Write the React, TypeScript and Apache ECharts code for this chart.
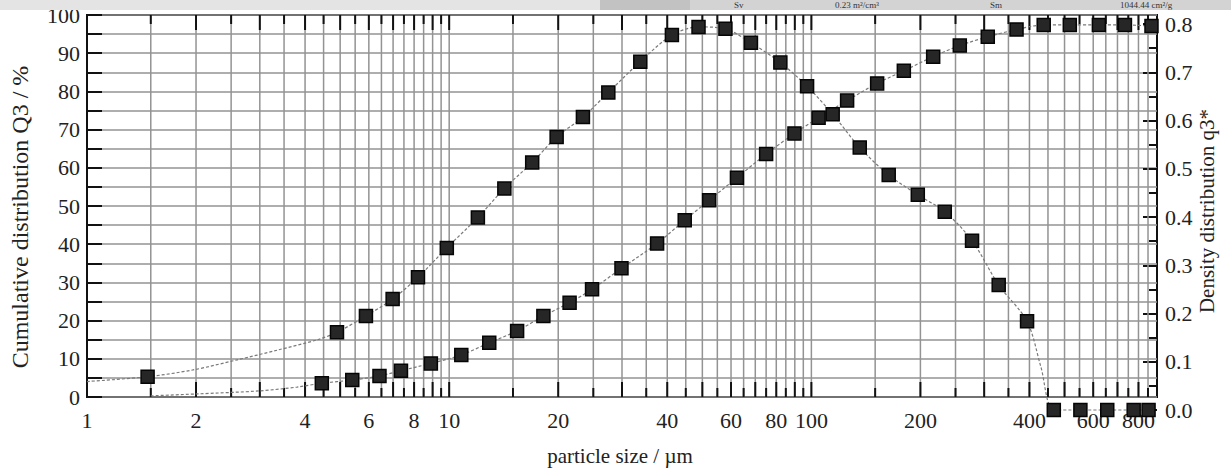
import React, { useEffect, useRef } from "react";
import * as echarts from "echarts";

// particle size (µm), density distribution q3* (right axis) — squares
const densitySize = [1.47, 4.9, 5.89, 6.98, 8.2, 9.85, 12.0, 14.2, 16.95, 19.8, 23.4, 27.5, 33.7, 41.2, 48.8, 57.9, 68.1, 82.1, 97.3, 114.5, 136, 163.5, 196.7, 233.5, 277.7, 329, 394, 467, 553, 656, 776, 853];
const densityValue = [0.069, 0.161, 0.195, 0.23, 0.275, 0.336, 0.399, 0.459, 0.513, 0.566, 0.607, 0.658, 0.722, 0.777, 0.794, 0.79, 0.761, 0.72, 0.671, 0.613, 0.544, 0.487, 0.446, 0.411, 0.351, 0.259, 0.184, 0, 0, 0, 0, 0];
// extra points of the fitted density trace (line only)
const densityTraceSize = [1, 1.96, 2.6, 3.35, 4.3, 430];
const densityTraceValue = [0.059, 0.083, 0.104, 0.124, 0.145, 0.09];

// particle size (µm), cumulative distribution Q3 (%) — squares
const cumulativeSize = [4.45, 5.4, 6.42, 7.36, 8.9, 10.8, 12.9, 15.4, 18.2, 21.5, 24.8, 29.9, 37.5, 44.7, 52.2, 62.3, 75, 89.8, 104.7, 125.5, 151.9, 180, 216.9, 256.9, 306.9, 368.5, 438, 517, 622, 734, 869];
const cumulativeValue = [3.6, 4.45, 5.5, 6.9, 8.8, 11, 14.2, 17.3, 21.2, 24.7, 28.2, 33.7, 40.2, 46.3, 51.5, 57.4, 63.6, 69.0, 73.1, 77.6, 82.1, 85.4, 89.1, 92.0, 94.3, 96.2, 97.4, 97.4, 97.4, 97.4, 97.1];
// extra points of the fitted cumulative trace (line only)
const cumulativeTraceSize = [1.5, 2, 3, 3.8];
const cumulativeTraceValue = [0.3, 0.8, 1.6, 2.6];

// vertical grid lines of the log paper
const gridLineValues = [
  1.5, 2, 2.5, 3, 3.5, 4, 4.5, 5, 5.5, 6, 6.5, 7, 7.5, 8, 8.5, 9, 9.5, 10,
  15, 20, 25, 30, 35, 40, 45, 50, 55, 60, 65, 70, 75, 80, 85, 90, 95, 100,
  150, 200, 250, 300, 350, 400, 450, 500, 550, 600, 650, 700, 750, 800, 850,
];
const xTickLabels = [1, 2, 4, 6, 8, 10, 20, 40, 60, 80, 100, 200, 400, 600, 800];

const X_MIN = 1;
const X_MAX = 900;
const SERIF = "'Liberation Serif', 'DejaVu Serif', serif";
const GRID_COLOR = "#939393";

function buildLine(mx: number[], my: number[], tx: number[], ty: number[]) {
  const pts: any[] = [];
  mx.forEach((x, i) => pts.push({ value: [x, my[i]] }));
  tx.forEach((x, i) => pts.push({ value: [x, ty[i]], symbol: "none" }));
  pts.sort((a, b) => a.value[0] - b.value[0]);
  return pts;
}

function isMajor(v: number) {
  const p = Math.pow(10, Math.floor(Math.log10(v) + 1e-9));
  const r = v / p;
  return Math.abs(r - Math.round(r)) < 1e-6;
}

export default function App() {
  const ref = useRef<HTMLDivElement>(null);
  useEffect(() => {
    if (!ref.current) return;
    const chart = echarts.init(ref.current, undefined, { renderer: "svg" });
    const lineStyle = { color: "#7a7a7a", width: 1.2, type: [3, 2] as any };
    const markerStyle = { color: "#262626", borderColor: "#050505", borderWidth: 1.5 };
    const headFont = `9px ${SERIF}`;

    chart.setOption({
      animation: false,
      backgroundColor: "#ffffff",
      grid: [
        { left: 87, right: 74, top: 15, bottom: 75, show: true, borderColor: "#111", borderWidth: 2, backgroundColor: "transparent" },
        { left: 87, right: 74, top: 24, bottom: 62, show: false },
      ],
      xAxis: [
        { type: "log", logBase: 10, min: X_MIN, max: X_MAX, gridIndex: 0, axisLine: { show: false }, axisTick: { show: false }, axisLabel: { show: false }, splitLine: { show: false } },
        { type: "log", logBase: 10, min: X_MIN, max: X_MAX, gridIndex: 1, show: false },
      ],
      yAxis: [
        {
          type: "value", gridIndex: 0, min: 0, max: 100, interval: 10, position: "left",
          axisLine: { show: false },
          axisTick: { show: true, inside: true, length: 15, lineStyle: { color: "#111", width: 2 } },
          minorTick: { show: true, splitNumber: 2, length: 15, lineStyle: { color: "#111", width: 2 } },
          splitLine: { show: true, lineStyle: { color: GRID_COLOR, width: 1.5 } },
          minorSplitLine: { show: true, lineStyle: { color: GRID_COLOR, width: 1.5 } },
          axisLabel: { color: "#222", fontSize: 22, fontFamily: SERIF, margin: 7 },
        },
        {
          type: "value", gridIndex: 1, min: 0, max: 0.8, interval: 0.1, position: "right",
          axisLine: { show: false },
          axisTick: { show: true, inside: true, length: 14, lineStyle: { color: "#111", width: 2 } },
          minorTick: { show: true, splitNumber: 2, length: 8, lineStyle: { color: "#111", width: 2 } },
          splitLine: { show: false },
          axisLabel: { color: "#222", fontSize: 22, fontFamily: SERIF, margin: 8, formatter: (v: number) => v.toFixed(1) },
        },
      ],
      graphic: [
        { type: "rect", shape: { x: 0, y: 0, width: 1231, height: 10 }, style: { fill: "#e4e4e4" }, z: 10 },
        { type: "rect", shape: { x: 600, y: 0, width: 90, height: 10 }, style: { fill: "#c2c2c2" }, z: 10 },
        { type: "rect", shape: { x: 690, y: 0, width: 541, height: 10 }, style: { fill: "#d3d3d3" }, z: 10 },
        { type: "text", x: 734, y: 5, z: 11, style: { text: "Sv", font: headFont, fill: "#333", verticalAlign: "middle" } },
        { type: "text", x: 835, y: 5, z: 11, style: { text: "0.23 m²/cm³", font: headFont, fill: "#333", verticalAlign: "middle" } },
        { type: "text", x: 990, y: 5, z: 11, style: { text: "Sm", font: headFont, fill: "#333", verticalAlign: "middle" } },
        { type: "text", x: 1120, y: 5, z: 11, style: { text: "1044.44 cm²/g", font: headFont, fill: "#333", verticalAlign: "middle" } },
        { type: "text", x: 20, y: 217, rotation: Math.PI / 2, style: { text: "Cumulative distribution Q3 / %", font: `24px ${SERIF}`, fill: "#222", align: "center", verticalAlign: "middle" } },
        { type: "text", x: 1207, y: 211, rotation: Math.PI / 2, style: { text: "Density distribution q3*", font: `21px ${SERIF}`, fill: "#222", align: "center", verticalAlign: "middle" } },
        { type: "text", x: 620, y: 456, style: { text: "particle size / µm", font: `21px ${SERIF}`, fill: "#222", align: "center", verticalAlign: "middle" } },
      ],
      series: [
        {
          type: "custom", xAxisIndex: 0, yAxisIndex: 0, z: 1, clip: false, silent: true,
          data: gridLineValues.map((v) => [v, 50]),
          renderItem: (params: any, api: any) => {
            const v = api.value(0);
            const top = api.coord([v, 100]);
            const bot = api.coord([v, 0]);
            const len = isMajor(v) ? 15 : 9;
            return {
              type: "group",
              children: [
                { type: "line", shape: { x1: top[0], y1: top[1], x2: bot[0], y2: bot[1] }, style: { stroke: GRID_COLOR, lineWidth: 1.5 } },
                { type: "line", shape: { x1: top[0], y1: top[1], x2: top[0], y2: top[1] + len }, style: { stroke: "#111", lineWidth: 2 } },
                { type: "line", shape: { x1: bot[0], y1: bot[1], x2: bot[0], y2: bot[1] - len }, style: { stroke: "#111", lineWidth: 2 } },
              ],
            };
          },
        },
        {
          type: "custom", xAxisIndex: 0, yAxisIndex: 0, z: 2, clip: false, silent: true,
          data: xTickLabels.map((v) => [v, 0]),
          renderItem: (params: any, api: any) => {
            const v = api.value(0);
            const p = api.coord([v, 0]);
            return { type: "text", x: p[0], y: p[1] + 23, style: { text: String(v), font: `22px ${SERIF}`, fill: "#222", align: "center", verticalAlign: "middle" } };
          },
        },
        {
          type: "line", name: "Q3", xAxisIndex: 0, yAxisIndex: 0, z: 5, clip: false,
          data: buildLine(cumulativeSize, cumulativeValue, cumulativeTraceSize, cumulativeTraceValue),
          smooth: 0.3, symbol: "rect", symbolSize: 13, lineStyle, itemStyle: markerStyle,
        },
        {
          type: "line", name: "q3*", xAxisIndex: 1, yAxisIndex: 1, z: 5, clip: false,
          data: buildLine(densitySize, densityValue, densityTraceSize, densityTraceValue),
          smooth: 0.3, symbol: "rect", symbolSize: 13, lineStyle, itemStyle: markerStyle,
        },
      ],
    });
    return () => chart.dispose();
  }, []);
  return <div ref={ref} style={{ position: "fixed", left: 0, top: 0, width: 1231, height: 472, background: "#fff" }} />;
}
